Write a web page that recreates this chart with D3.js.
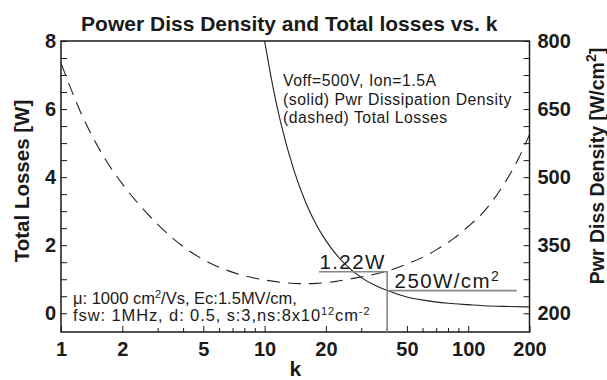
<!DOCTYPE html>
<meta charset="utf-8">
<html lang="en">
<style>
body { margin: 0; background: #fff; }
svg text { font-family: "Liberation Sans", Arial, sans-serif; fill: #1a1a1a; }
.tick text { font: bold 20px "Liberation Sans", Arial, sans-serif; fill: #1a1a1a; }
.axis path, .axis line { stroke: #1a1a1a; }
.frame { fill: none; stroke: #1a1a1a; stroke-width: 1.5px; }
.solid { fill: none; stroke: #222; stroke-width: 1.1px; }
.dashed { fill: none; stroke: #222; stroke-width: 1.1px; stroke-dasharray: 13,8; }
.marker { fill: none; stroke: #888; stroke-width: 1.6px; }
.note { font-size: 16.5px; }
</style>
<body>
<div id="chart"></div>
<script src="https://cdn.jsdelivr.net/npm/d3@7"></script>
<script>
// values
var densK   = [10, 11, 12, 14, 16, 18, 20, 25, 30, 35, 40, 50, 60, 80, 100, 130, 160, 200],
    densVal = [800, 698, 620, 512, 442, 394, 360, 307, 278, 261, 250, 236, 229, 222, 219, 216, 215, 214];
var lossK   = [1, 1.25, 1.5, 2, 2.5, 3, 4, 5, 6, 8, 10, 12, 15, 18, 22, 27, 33, 40, 50, 60, 70, 85, 100, 120, 150, 175, 200],
    lossVal = [7.35, 5.9, 4.95, 3.8, 3.1, 2.6, 1.95, 1.58, 1.35, 1.1, 0.98, 0.91, 0.87, 0.88, 0.93, 1.02, 1.12, 1.24, 1.45, 1.65, 1.87, 2.2, 2.55, 3.0, 3.8, 4.5, 5.25];
var kTicks = [1, 2, 5, 10, 20, 50, 100, 200],
    kMinor = [3, 4, 6, 7, 8, 9, 30, 40, 60, 70, 80, 90],
    lossTicks = [0, 2, 4, 6, 8],
    densTicks = [200, 350, 500, 650, 800];
var markK = 40, markLoss = 1.22, markDens = 250;

var width = 607, height = 380,
    margin = {top: 41, right: 77.5, bottom: 48, left: 61};
var x0 = margin.left, x1 = width - margin.right,
    y0 = height - margin.bottom, y1 = margin.top;

var x = d3.scaleLog().domain([1, 200]).range([x0, x1]);
var yL = d3.scaleLinear().domain([-0.55, 8]).range([y0, y1]);
var yR = d3.scaleLinear().domain([200 - 0.55 * 75, 800]).range([y0, y1]);

var svg = d3.select("#chart").append("svg")
    .attr("width", width).attr("height", height);

svg.append("defs").append("clipPath").attr("id", "clip")
  .append("rect").attr("x", x0).attr("y", y1)
  .attr("width", x1 - x0).attr("height", y0 - y1);

// axes
var gx = svg.append("g").attr("class", "axis")
    .attr("transform", "translate(0," + y0 + ")")
    .call(d3.axisBottom(x).tickValues(kTicks).tickFormat(d3.format("d")).tickSize(-6).tickPadding(10));
gx.append("g").selectAll("line").data(kMinor).enter().append("line")
    .attr("x1", x).attr("x2", x).attr("y1", 0).attr("y2", -4)
    .attr("stroke", "#1a1a1a");

var minorL = d3.range(0, 8.01, 0.5);
svg.append("g").attr("class", "axis")
    .attr("transform", "translate(" + x0 + ",0)")
    .call(d3.axisLeft(yL).tickValues(minorL).tickSize(-6).tickPadding(5)
      .tickFormat(function(d) { return lossTicks.indexOf(d) >= 0 ? d : ""; }));

var minorR = d3.range(200, 800.1, 37.5);
svg.append("g").attr("class", "axis")
    .attr("transform", "translate(" + x1 + ",0)")
    .call(d3.axisRight(yR).tickValues(minorR).tickSize(-6).tickPadding(8)
      .tickFormat(function(d) { return densTicks.indexOf(d) >= 0 ? d : ""; }));

svg.selectAll(".axis .domain").remove();
svg.append("rect").attr("class", "frame")
    .attr("x", x0).attr("y", y1).attr("width", x1 - x0).attr("height", y0 - y1);

// curves
var plot = svg.append("g").attr("clip-path", "url(#clip)");
var densLine = d3.line().curve(d3.curveMonotoneX)
    .x(function(d, i) { return x(densK[i]); })
    .y(function(d) { return yR(d); });
var lossLine = d3.line().curve(d3.curveMonotoneX)
    .x(function(d, i) { return x(lossK[i]); })
    .y(function(d) { return yL(d); });
plot.append("path").datum(densVal).attr("class", "solid").attr("d", densLine);
plot.append("path").datum(lossVal).attr("class", "dashed").attr("d", lossLine);

// marker lines at k = 40
plot.append("path").attr("class", "marker")
    .attr("d", "M" + x(18.5) + "," + yL(markLoss) + "H" + x(markK) + "V" + y0);
plot.append("path").attr("class", "marker")
    .attr("d", "M" + x(markK) + "," + yR(markDens) + "H" + x(173));

svg.append("text").attr("x", x(18.6)).attr("y", yL(markLoss) - 3)
    .style("font-size", "20.5px").style("letter-spacing", "1.4px").text("1.22W");
var t250 = svg.append("text").attr("x", x(43.5)).attr("y", yR(markDens) - 3)
    .style("font-size", "20.5px").style("letter-spacing", "1.4px");
t250.append("tspan").text("250W/cm");
t250.append("tspan").attr("dy", -7).style("font-size", "14px").text("2");

// notes
var notes = ["Voff=500V, Ion=1.5A", "(solid) Pwr Dissipation Density", "(dashed) Total Losses"];
svg.append("g").selectAll("text").data(notes).enter().append("text")
    .attr("class", "note").style("font-size", "15.8px").style("letter-spacing", "0.5px")
    .attr("x", 283).attr("y", function(d, i) { return 86 + i * 18.5; })
    .text(function(d) { return d; });

var p1 = svg.append("text").attr("class", "note").attr("x", x0 + 12).attr("y", 304);
p1.append("tspan").text("\u03bc: 1000 cm");
p1.append("tspan").attr("dy", -6).style("font-size", "11px").text("2");
p1.append("tspan").attr("dy", 6).text("/Vs, Ec:1.5MV/cm,");
var p2 = svg.append("text").attr("class", "note").attr("x", x0 + 12).attr("y", 321)
    .style("letter-spacing", "0.9px");
p2.append("tspan").text("fsw: 1MHz, d: 0.5, s:3,ns:8x10");
p2.append("tspan").attr("dy", -6).style("font-size", "11px").text("12");
p2.append("tspan").attr("dy", 6).text("cm");
p2.append("tspan").attr("dy", -6).style("font-size", "11px").text("-2");

// titles
svg.append("text").attr("x", (x0 + x1) / 2 - 6).attr("y", 31)
    .attr("text-anchor", "middle").style("font", "bold 21px 'Liberation Sans', Arial, sans-serif")
    .text("Power Diss Density and Total losses vs. k");
svg.append("text").attr("x", (x0 + x1) / 2).attr("y", 376)
    .attr("text-anchor", "middle").style("font", "bold 21px 'Liberation Sans', Arial, sans-serif")
    .text("k");
svg.append("text").attr("transform", "translate(29,181) rotate(-90)")
    .attr("text-anchor", "middle").style("font", "bold 20.5px 'Liberation Sans', Arial, sans-serif")
    .text("Total Losses [W]");
var rl = svg.append("text").attr("transform", "translate(604,166) rotate(-90)")
    .attr("text-anchor", "middle").style("font", "bold 19.5px 'Liberation Sans', Arial, sans-serif");
rl.append("tspan").text("Pwr Diss Density [W/cm");
rl.append("tspan").attr("dy", -8).style("font-size", "14px").text("2");
rl.append("tspan").attr("dy", 8).text("]");
</script>
</body>
</html>
